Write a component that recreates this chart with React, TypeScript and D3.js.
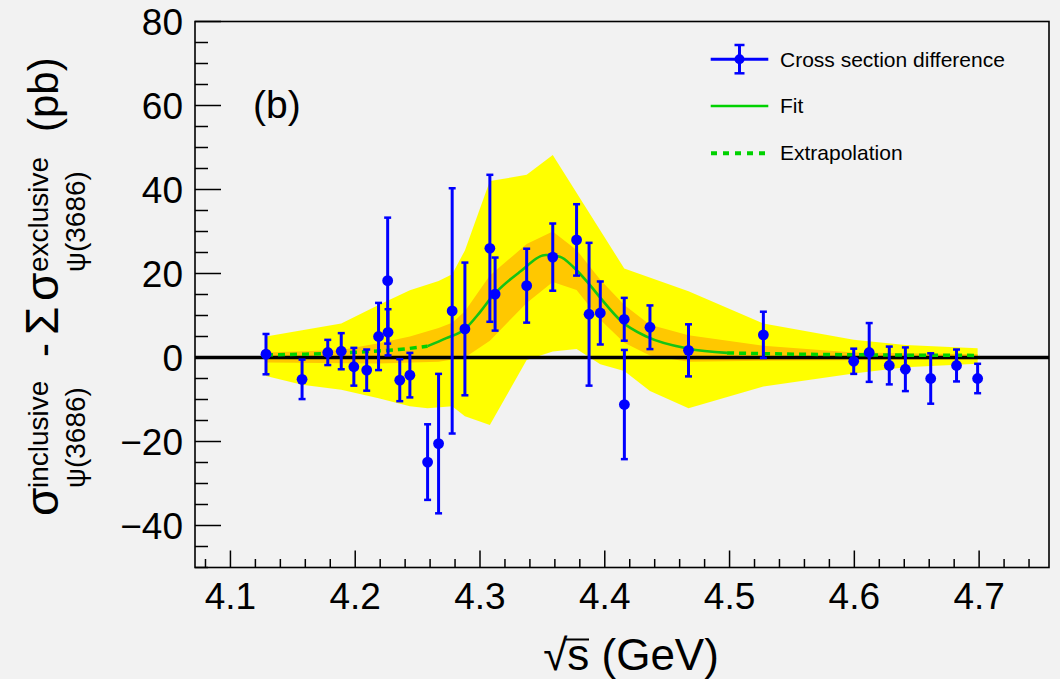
import React from 'react';
import * as d3 from 'd3';

// ---- data ----
const energies = [4.1285, 4.1574, 4.178, 4.1888, 4.1989, 4.2092, 4.2187, 4.226, 4.2263, 4.2357, 4.2438, 4.258, 4.2668, 4.2777, 4.2879, 4.3079, 4.3121, 4.3374, 4.3583, 4.3774, 4.3874, 4.3964, 4.4156, 4.4157, 4.4362, 4.4671, 4.5271, 4.5995, 4.6119, 4.628, 4.6409, 4.6612, 4.6819, 4.6988];
const values = [0.8, -5.2, 1.2, 1.5, -2.2, -3.0, 5.0, 18.3, 6.0, -5.4, -4.2, -24.9, -20.5, 11.1, 6.8, 26.0, 15.1, 17.1, 23.9, 28.0, 10.3, 10.6, 9.1, -11.2, 7.2, 1.7, 5.4, -0.9, 1.2, -1.9, -2.8, -5.0, -1.9, -5.0];
const errors = [4.8, 4.7, 3.0, 4.3, 4.5, 4.9, 8.0, 15.0, 5.5, 5.0, 5.3, 9.0, 16.6, 29.2, 15.8, 17.5, 8.7, 8.8, 8.0, 8.5, 17.0, 7.5, 5.1, 13.0, 5.2, 6.2, 5.5, 3.0, 7.0, 4.5, 5.2, 6.0, 3.8, 3.5];

const yellowUpper: [number, number][] = [[4.1285, 5.0], [4.1574, 6.5], [4.1888, 8.1], [4.2187, 12.5], [4.2438, 16.0], [4.2668, 18.2], [4.2777, 19.8], [4.2879, 25.5], [4.3079, 42.0], [4.3374, 43.5], [4.3583, 48.2], [4.4156, 21.2], [4.4671, 15.8], [4.5271, 8.1], [4.5995, 4.2], [4.6409, 3.0], [4.6988, 2.2]];
const yellowLower: [number, number][] = [[4.1285, -4.4], [4.1574, -6.5], [4.1888, -7.7], [4.2187, -9.7], [4.2438, -11.6], [4.258, -12.1], [4.2777, -11.6], [4.2879, -14.0], [4.3079, -16.1], [4.3374, -0.6], [4.3583, 1.4], [4.3774, 2.0], [4.3964, -1.6], [4.4156, -3.2], [4.4362, -8.0], [4.4671, -12.1], [4.5271, -6.9], [4.5995, -3.8], [4.6409, -2.3], [4.6988, -1.5]];
const orangeUpper: [number, number][] = [[4.1285, 1.2], [4.1888, 1.8], [4.2187, 3.4], [4.2438, 5.0], [4.2668, 7.0], [4.2777, 8.3], [4.2879, 11.0], [4.3079, 19.5], [4.3374, 27.0], [4.3583, 30.0], [4.3774, 25.6], [4.3964, 18.5], [4.4156, 12.5], [4.4362, 7.8], [4.4671, 5.3], [4.5271, 2.8], [4.5995, 1.2], [4.6988, 0.8]];
const orangeLower: [number, number][] = [[4.1285, -1.2], [4.2187, -1.4], [4.2668, -1.0], [4.2879, 0.0], [4.3079, 4.0], [4.3374, 13.0], [4.3583, 18.0], [4.3774, 16.1], [4.3964, 9.0], [4.4156, 3.5], [4.4362, 0.5], [4.4671, -1.0], [4.5271, -0.8], [4.6988, -0.5]];

const fitSolid: [number, number][] = [[4.258, 2.7], [4.273, 4.6], [4.288, 6.8], [4.3, 10.8], [4.31, 14.6], [4.332, 20.4], [4.353, 24.4], [4.364, 24.0], [4.375, 21.5], [4.388, 17.3], [4.397, 14.0], [4.413, 8.7], [4.434, 4.9], [4.467, 2.1], [4.498, 1.1]];
const fitDashedLeft: [number, number][] = [[4.1285, 0.6], [4.16, 0.8], [4.19, 1.1], [4.21, 1.4], [4.235, 1.9], [4.258, 2.7]];
const fitDashedRight: [number, number][] = [[4.498, 1.1], [4.53, 0.9], [4.6, 0.65], [4.7, 0.5]];

const xMajorTicks = [4.1, 4.2, 4.3, 4.4, 4.5, 4.6, 4.7];
const xTickLabels = ['4.1', '4.2', '4.3', '4.4', '4.5', '4.6', '4.7'];
const yMajorTicks = [-40, -20, 0, 20, 40, 60, 80];
const yTickLabels = ['\u221240', '\u221220', '0', '20', '40', '60', '80'];
const legendLabels = ['Cross section difference', 'Fit', 'Extrapolation'];
const panelLabel = '(b)';

const FONT = "'Liberation Sans', Arial, Helvetica, sans-serif";
const BLUE = '#0000ff';
const FITC = '#14c414';
const DASHC = '#00d200';

export default function App() {
  const left = 195, right = 1049, top = 21.5, bottom = 567.5;
  const x = d3.scaleLinear().domain([4.0716, 4.756]).range([left, right]);
  const y = d3.scaleLinear().domain([-50, 80]).range([bottom, top]);

  const line = d3.line<[number, number]>().x(d => x(d[0])).y(d => y(d[1]));
  const smooth = d3.line<[number, number]>().x(d => x(d[0])).y(d => y(d[1])).curve(d3.curveMonotoneX);
  const band = (up: [number, number][], lo: [number, number][]) =>
    (line(up.concat(lo.slice().reverse())) || '') + 'Z';

  const xMinor = d3.range(204, 238).map(i => i / 50).filter(v => !xMajorTicks.some(m => Math.abs(m - v) < 1e-6));
  const yMinor = d3.range(-50, 81, 5).filter(v => !yMajorTicks.includes(v));

  const capW = 3.5;

  return (
    <svg width={1060} height={679} style={{ position: 'absolute', left: 0, top: 0, display: 'block' }} fontFamily={FONT}>
      <rect x={0} y={0} width={1060} height={679} fill="#f2f2f2" />
      {/* bands */}
      <path d={band(yellowUpper, yellowLower)} fill="#ffff00" />
      <path d={band(orangeUpper, orangeLower)} fill="#ffc800" />
      {/* zero line */}
      <line x1={left} x2={right} y1={y(0)} y2={y(0)} stroke="#000" strokeWidth={3.6} />
      {/* fit */}
      <path d={smooth(fitDashedLeft) || ''} fill="none" stroke={DASHC} strokeWidth={3.5} strokeDasharray="7 5" />
      <path d={smooth(fitDashedRight) || ''} fill="none" stroke={DASHC} strokeWidth={3.5} strokeDasharray="7 5" />
      <path d={smooth(fitSolid) || ''} fill="none" stroke={FITC} strokeWidth={2.6} />
      {/* data */}
      {energies.map((e, i) => {
        const cx = x(e);
        const y1 = y(values[i] + errors[i]);
        const y2 = y(values[i] - errors[i]);
        return (
          <g key={i} stroke={BLUE} strokeWidth={3}>
            <line x1={cx} x2={cx} y1={y1} y2={y2} />
            <line x1={cx - capW} x2={cx + capW} y1={y1} y2={y1} strokeWidth={2.5} />
            <line x1={cx - capW} x2={cx + capW} y1={y2} y2={y2} strokeWidth={2.5} />
            <circle cx={cx} cy={y(values[i])} r={5.4} fill={BLUE} stroke="none" />
          </g>
        );
      })}
      {/* frame */}
      <rect x={left} y={top} width={right - left} height={bottom - top} fill="none" stroke="#000" strokeWidth={1.6} />
      {/* x ticks */}
      {xMajorTicks.map(v => (
        <line key={'xM' + v} x1={x(v)} x2={x(v)} y1={bottom} y2={bottom - 17} stroke="#000" strokeWidth={1.5} />
      ))}
      {xMinor.map(v => (
        <line key={'xm' + v} x1={x(v)} x2={x(v)} y1={bottom} y2={bottom - 8.5} stroke="#000" strokeWidth={1.5} />
      ))}
      {xMajorTicks.map((v, i) => (
        <text key={'xl' + v} x={x(v)} y={608.5} fontSize={37} textAnchor="middle" fill="#000">{xTickLabels[i]}</text>
      ))}
      {/* y ticks */}
      {yMajorTicks.map(v => (
        <line key={'yM' + v} x1={left} x2={left + 26} y1={y(v)} y2={y(v)} stroke="#000" strokeWidth={1.5} />
      ))}
      {yMinor.map(v => (
        <line key={'ym' + v} x1={left} x2={left + 13} y1={y(v)} y2={y(v)} stroke="#000" strokeWidth={1.5} />
      ))}
      {yMajorTicks.map((v, i) => (
        <text key={'yl' + v} x={183} y={y(v)} dy="0.36em" fontSize={37} textAnchor="end" fill="#000">{yTickLabels[i]}</text>
      ))}
      {/* x title */}
      <text x={631} y={670} fontSize={44} textAnchor="middle" fill="#000">{'\u221As (GeV)'}</text>
      <line x1={566} x2={589} y1={639.5} y2={639.5} stroke="#000" strokeWidth={2} />
      {/* y title (rotated) */}
      <g transform="translate(58,0) rotate(-90)" fill="#000">
        <text x={-516} y={0} fontSize={46}>σ</text>
        <text x={-488} y={-10} fontSize={28}>inclusive</text>
        <text x={-488} y={27} fontSize={28}>ψ(3686)</text>
        <text x={-357} y={0} fontSize={42}>-</text>
        <text x={-335} y={0} fontSize={46}>Σ</text>
        <text x={-301} y={0} fontSize={46}>σ</text>
        <text x={-272} y={-10} fontSize={28}>exclusive</text>
        <text x={-272} y={27} fontSize={28}>ψ(3686)</text>
        <text x={-132} y={0} fontSize={42}>(pb)</text>
      </g>
      {/* panel label */}
      <text x={253} y={118} fontSize={39} fill="#000">{panelLabel}</text>
      {/* legend */}
      <g>
        <line x1={710.7} x2={768.3} y1={59.3} y2={59.3} stroke={BLUE} strokeWidth={3} />
        <line x1={739.5} x2={739.5} y1={45} y2={73.3} stroke={BLUE} strokeWidth={3} />
        <line x1={734.5} x2={744.5} y1={45} y2={45} stroke={BLUE} strokeWidth={2.5} />
        <line x1={734.5} x2={744.5} y1={73.3} y2={73.3} stroke={BLUE} strokeWidth={2.5} />
        <circle cx={739.5} cy={59.3} r={5} fill={BLUE} />
        <text x={780} y={66.7} fontSize={21} fill="#000">{legendLabels[0]}</text>
        <line x1={710.7} x2={768.3} y1={106} y2={106} stroke={DASHC} strokeWidth={2.6} />
        <text x={780} y={113.3} fontSize={21} fill="#000">{legendLabels[1]}</text>
        <line x1={711} x2={768} y1={153.3} y2={153.3} stroke={DASHC} strokeWidth={4} strokeDasharray="6 6" />
        <text x={780} y={159.8} fontSize={21} fill="#000">{legendLabels[2]}</text>
      </g>
    </svg>
  );
}
